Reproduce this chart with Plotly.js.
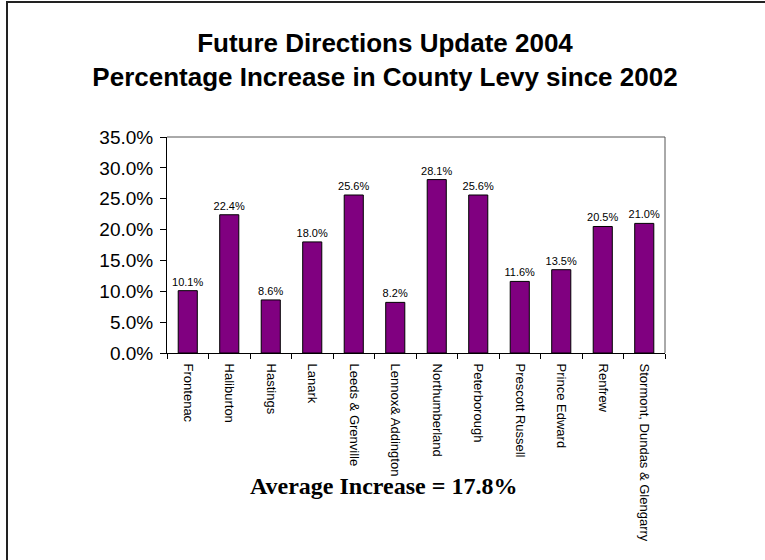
<!DOCTYPE html>
<html>
<head>
<meta charset="utf-8">
<script src="https://cdn.plot.ly/plotly-3.0.1.min.js"></script>
<style>
  html, body { margin: 0; padding: 0; background: #fff; }
  #chart { width: 765px; height: 560px; position: absolute; left: 0; top: 0; }
  #frame { position: absolute; left: 6px; top: 1px; width: 800px; height: 600px;
           border-left: 2px solid #222; border-top: 2px solid #222; pointer-events: none; }
</style>
</head>
<body>
<div id="chart"></div>
<div id="frame"></div>
<script>
const counties = ["Frontenac", "Haliburton", "Hastings", "Lanark", "Leeds & Grenville",
  "Lennox& Addington", "Northumberland", "Peterborough", "Prescott Russell",
  "Prince Edward", "Renfrew", "Stormont, Dundas & Glengarry"];
const increasePct = [10.1, 22.4, 8.6, 18.0, 25.6, 8.2, 28.1, 25.6, 11.6, 13.5, 20.5, 21.0];
const averageIncrease = 17.8;
const titleLines = ["Future Directions Update 2004", "Percentage Increase in County Levy since 2002"];

const trace = {
  type: "bar",
  x: counties,
  y: increasePct,
  marker: { color: "#800080", line: { color: "#000", width: 1 } },
  texttemplate: "%{y:.1f}%",
  textposition: "outside",
  constraintext: "none",
  textfont: { family: "Arial, Liberation Sans, sans-serif", size: 11, color: "#000" },
  cliponaxis: false,
  hoverinfo: "none"
};

const layout = {
  width: 765, height: 560,
  margin: { l: 167, r: 100, t: 137, b: 207 },
  paper_bgcolor: "#fff", plot_bgcolor: "#fff",
  showlegend: false,
  bargap: 0.54,
  title: {
    text: "<b>" + titleLines.join("<br>") + "</b>",
    font: { family: "Arial, Liberation Sans, sans-serif", size: 26, color: "#000" },
    x: 385 / 765, xref: "container", xanchor: "center",
    y: 1 - 52 / 560, yref: "container", yanchor: "middle"
  },
  xaxis: {
    type: "category",
    showline: true, linecolor: "#000", linewidth: 1, mirror: false,
    ticks: "outside", tickson: "boundaries", ticklen: 5, tickcolor: "#000",
    tickangle: 90, ticklabelstandoff: 7,
    tickfont: { family: "Arial, Liberation Sans, sans-serif", size: 13, color: "#000" },
    showgrid: false, zeroline: false, fixedrange: true
  },
  yaxis: {
    range: [0, 35], dtick: 5, tick0: 0,
    tickformat: ".1f", ticksuffix: "%",
    showline: true, linecolor: "#000", linewidth: 1,
    ticks: "outside", ticklen: 6, tickcolor: "#000", ticklabelstandoff: 3,
    tickfont: { family: "Arial, Liberation Sans, sans-serif", size: 19, color: "#000" },
    showgrid: false, zeroline: false, fixedrange: true
  },
  shapes: [
    { type: "line", xref: "paper", yref: "paper", x0: 0, x1: 1, y0: 1, y1: 1,
      line: { color: "#555", width: 1 } },
    { type: "line", xref: "paper", yref: "paper", x0: 1, x1: 1, y0: 0, y1: 1,
      line: { color: "#555", width: 1 } }
  ],
  annotations: [
    { xref: "paper", yref: "paper", x: (383 - 167) / 498, y: (353 - 486) / 216,
      xanchor: "center", yanchor: "middle", showarrow: false,
      text: "<b>Average Increase = " + averageIncrease.toFixed(1) + "%</b>",
      font: { family: "Times New Roman, Liberation Serif, serif", size: 24, color: "#000" } }
  ]
};

Plotly.newPlot("chart", [trace], layout, { displayModeBar: false, staticPlot: true });
</script>
</body>
</html>
